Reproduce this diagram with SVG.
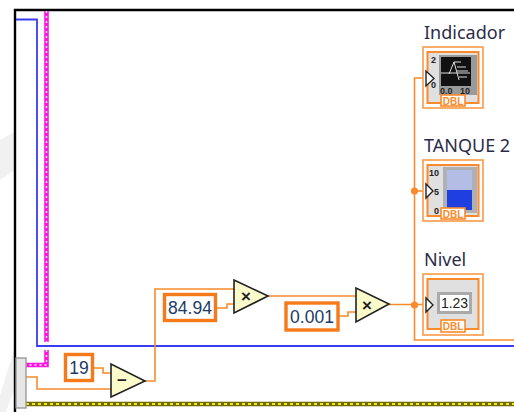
<svg xmlns="http://www.w3.org/2000/svg" width="514" height="412" viewBox="0 0 514 412">
<defs><style>
text{font-family:"Liberation Sans",Arial,sans-serif}
.w{fill:none;stroke:#f98b2c;stroke-width:1.6}
.tri{fill:#fbfacb;stroke:#222;stroke-width:1.6}
.op{font-size:17px;font-weight:bold;fill:#222;text-anchor:middle}
.cb{fill:#fff;stroke:#f6791a;stroke-width:3.4}
.ct{font-size:17.5px;fill:#1c3a66;text-anchor:middle}
.lb{font-size:18px;fill:#2c2c4a;font-family:"Noto Sans","Liberation Sans",sans-serif}
.o{fill:#fff;stroke:#fa9a46;stroke-width:1.6}
.i{fill:#e0e0e0;stroke:#fa8a2c;stroke-width:2}
.dbl{fill:#fff;stroke:#fa8a2c;stroke-width:1.6}
.dt{font-size:10px;font-weight:bold;fill:#f98b2c;text-anchor:middle}
.term{fill:#fff;stroke:#222;stroke-width:1.4}
.sc{font-size:9px;font-weight:bold;fill:#222}
</style></defs>
<rect width="514" height="412" fill="#fff"/>
<g id="background-marks" fill="#f1f1f1">
<path d="M0 140L14 132V170L0 180Z"/>
<path d="M0 395L14 350V390L6 412H0Z"/>
</g>
<g id="frame">
<path d="M15 412V10H514" fill="none" stroke="#000" stroke-width="2.4"/>
</g>
<g id="connectors">
<path d="M16 19.500H37V346H514" fill="none" stroke="#3a3af0" stroke-width="1.800"/>
<path d="M46.500 11V342" fill="none" stroke="#ff14e0" stroke-width="4.600"/>
<path d="M46.500 11V342" fill="none" stroke="#fff" stroke-width="1.400" stroke-dasharray="2 3"/>
<path d="M46.500 350V365H26" fill="none" stroke="#ff14e0" stroke-width="4.600"/>
<path d="M46.500 350V365H26" fill="none" stroke="#fff" stroke-width="1.400" stroke-dasharray="2 3"/>
<path d="M26 404H514" fill="none" stroke="#6e6a00" stroke-width="4.600"/>
<path d="M26 404H514" fill="none" stroke="#f5e90a" stroke-width="2" stroke-dasharray="3 3"/>
<path class="w" d="M26 377H37V389H111"/>
<path class="w" d="M94 368H103V373H111"/>
<path class="w" d="M145 381H155V289H234"/>
<path class="w" d="M217 308H227V304H234"/>
<path class="w" d="M268 296H356"/>
<path class="w" d="M339 316H348V312H356"/>
<path class="w" d="M389 304.500H426"/>
<path class="w" d="M426 78H414.500V340H514"/>
<path class="w" d="M414.500 191H426"/>
<circle cx="414.500" cy="191" r="3.600" fill="#f98b2c"/>
<circle cx="414.500" cy="305" r="3.600" fill="#f98b2c"/>
</g>
<g id="loop-terminal"><rect x="16" y="358" width="10" height="50" fill="#e6e6e6" stroke="#9a9a9a" stroke-width="1.400"/></g>
<g id="const-19"><rect class="cb" x="65.500" y="354.500" width="27" height="26"/><text class="ct" x="79" y="374">19</text></g>
<g id="const-8494"><rect class="cb" x="164.500" y="294.500" width="51" height="26"/><text class="ct" x="190" y="314">84.94</text></g>
<g id="const-0001"><rect class="cb" x="286" y="303" width="52" height="27"/><text class="ct" x="312" y="323">0.001</text></g>
<g id="subtract"><path class="tri" d="M111 364V397L145 381Z"/><text class="op" x="122" y="386">−</text></g>
<g id="multiply-1"><path class="tri" d="M234 280V313L268 296Z"/><text class="op" x="246" y="302">×</text></g>
<g id="multiply-2"><path class="tri" d="M356 288V322L389 304Z"/><text class="op" x="367" y="311">×</text></g>
<g id="indicador">
<text class="lb" x="424" y="39">Indicador</text>
<rect class="o" x="423" y="47" width="60" height="61"/>
<rect class="i" x="427.500" y="52" width="51" height="51"/>
<rect x="439" y="55" width="38" height="40" fill="#9a9a9a"/>
<rect x="441" y="57" width="30" height="29" fill="#111"/>
<path d="M441 73H470M449 74L454 62L459 80M454 62H461M457 67H466M457 71H468M459 77H467" fill="none" stroke="#ddd" stroke-width="1"/>
<text class="sc" x="431" y="63">2</text><text class="sc" x="431" y="88">0</text>
<text class="sc" x="440" y="94">0.0</text><text class="sc" x="460" y="94">10</text>
<rect class="dbl" x="441" y="95" width="24" height="11"/><text class="dt" x="453" y="104.500">DBL</text>
<path class="term" d="M426 71V86L434 78.500Z"/>
</g>
<g id="tanque-2">
<text class="lb" x="424" y="152">TANQUE 2</text>
<rect class="o" x="423" y="160" width="60" height="61"/>
<rect class="i" x="427.500" y="165" width="51" height="51"/>
<rect x="443" y="167" width="34" height="46" fill="#b0b0b2"/>
<rect x="447" y="170" width="25" height="20" fill="#b4bde6"/>
<rect x="447" y="190" width="25" height="20" fill="#1f3fe0"/>
<text class="sc" x="429" y="176">10</text><text class="sc" x="434" y="195">5</text><text class="sc" x="434" y="214">0</text>
<rect class="dbl" x="441" y="208" width="24" height="11"/><text class="dt" x="453" y="217.500">DBL</text>
<path class="term" d="M426 184V198L433 191Z"/>
</g>
<g id="nivel">
<text class="lb" x="424" y="266">Nivel</text>
<rect class="o" x="423" y="274" width="60" height="61"/>
<rect class="i" x="427.500" y="279" width="51" height="50"/>
<rect x="437" y="292" width="35" height="22" fill="#aaa"/>
<rect x="440" y="295" width="29" height="16" fill="#fff"/>
<text x="454.500" y="308" font-size="14" fill="#222" text-anchor="middle">1.23</text>
<rect class="dbl" x="441" y="320" width="24" height="12"/><text class="dt" x="453" y="330">DBL</text>
<path class="term" d="M426 298V312L433 305Z"/>
</g>
</svg>
